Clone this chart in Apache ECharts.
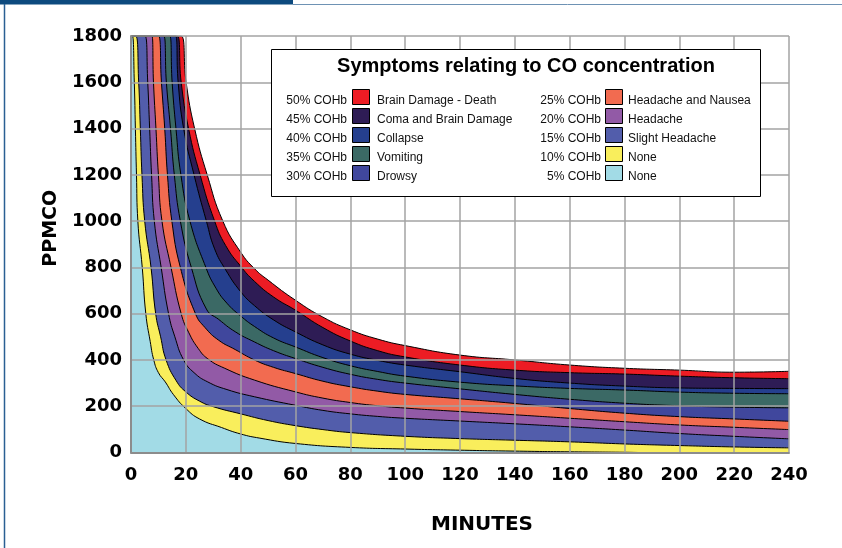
<!DOCTYPE html>
<html>
<head>
<meta charset="utf-8">
<script src="https://cdn.jsdelivr.net/npm/echarts@6/dist/echarts.min.js"></script>
<style>
html,body{margin:0;padding:0;background:#fff;}
#c{width:842px;height:548px;}
</style>
</head>
<body>
<div id="c"></div>
<script>
// ---- data ----
const levels = ['50% COHb','45% COHb','40% COHb','35% COHb','30% COHb','25% COHb','20% COHb','15% COHb','10% COHb','5% COHb'];
const symptoms = ['Brain Damage - Death','Coma and Brain Damage','Collapse','Vomiting','Drowsy','Headache and Nausea','Headache','Slight Headache','None','None'];
const colors = ['#ED1C24','#2E1C55','#253F8E','#3B6965','#40479D','#F26B50','#925AA6','#525DAB','#F9EE5C','#A2DBE6'];
const xTicks = [0,20,40,60,80,100,120,140,160,180,200,220,240];
const yTicks = [0,200,400,600,800,1000,1200,1400,1600,1800];

// upper boundary of each band: [minutes, ppm CO]
const cohb50 = [[0,1800],[18.2,1800],[20.1,1600],[23.2,1400],[27.8,1200],[33.5,1000],[40,866],[45,795],[50,745],[60,658],[70,585],[80,530],[90,490],[100,462],[120,421],[140,400],[160,378],[180,364],[200,356],[220,347],[240,351]];
const cohb45 = [[0,1800],[16.8,1800],[18.3,1600],[21,1400],[25.2,1200],[30.5,1000],[34.5,895],[40,805],[45,740],[52,672],[60,615],[70,540],[80,482],[90,440],[100,413],[120,378],[140,356],[160,345],[180,339],[200,330],[220,323],[240,319]];
const cohb40 = [[0,1800],[16.2,1800],[17.2,1600],[19.2,1400],[23,1200],[27.5,1000],[30.5,880],[34.5,790],[40,695],[45,635],[52,573],[60,521],[70,465],[80,425],[90,398],[100,378],[120,349],[140,320],[160,300],[180,287],[200,279],[220,277],[240,276]];
const cohb35 = [[0,1800],[14.1,1800],[15,1600],[16.4,1400],[18.2,1200],[21.5,1000],[27.3,800],[31,710],[35,645],[40,590],[45,545],[52,495],[60,456],[70,410],[80,375],[90,350],[100,330],[120,304],[140,288],[160,277],[180,270],[200,261],[220,256],[240,254]];
const cohb30 = [[0,1800],[11.9,1800],[12.9,1600],[14.4,1400],[15.8,1200],[18,1000],[22,800],[27.5,620],[32,575],[38,522],[45,478],[52,440],[60,406],[70,368],[80,338],[90,316],[100,300],[120,275],[140,251],[160,230],[180,213],[200,202],[220,196],[240,193]];
const cohb25 = [[0,1800],[10,1800],[11.1,1600],[12.3,1400],[13.3,1200],[14.9,1000],[18,800],[23.5,600],[27,540],[32,485],[38,445],[45,400],[52,368],[60,341],[70,308],[80,284],[90,265],[100,251],[120,232],[140,212],[160,190],[180,170],[200,155],[220,145],[240,135]];
const cohb20 = [[0,1800],[7.6,1800],[8.2,1600],[9.1,1400],[10,1200],[11.3,1000],[14.6,800],[18.3,600],[21,520],[24.5,450],[28,405],[34,365],[45,313],[60,262],[70,235],[80,216],[90,202],[100,192],[120,177],[140,163],[160,148],[180,133],[200,119],[220,109],[240,99]];
const cohb15 = [[0,1800],[5.1,1800],[6.1,1600],[6.8,1400],[7.5,1200],[8.5,1000],[11,800],[13.7,600],[16,500],[19.2,400],[23,345],[28,305],[35,272],[45,241],[60,204],[70,182],[80,167],[90,156],[100,148],[120,136],[140,124],[160,111],[180,97],[200,82],[220,70],[240,59]];
const cohb10 = [[0,1800],[1.7,1800],[2.8,1600],[3.4,1400],[4,1200],[5,1000],[7.3,800],[9,600],[10.8,500],[12.8,400],[16.5,310],[20,262],[25,222],[30,198],[40,167],[50,138],[60,116],[70,99],[80,86],[100,70],[120,60],[140,53],[160,46],[180,37],[200,30],[220,24],[240,20]];
const cohb5  = [[0,1800],[0.5,1800],[1.2,1600],[1.6,1400],[2,1200],[2.5,1000],[4.1,800],[5.4,600],[7,480],[8.3,400],[10,345],[12.5,305],[15.5,250],[20,190],[25,145],[33,108],[40,80],[47,62],[60,39],[80,22],[100,15],[120,10],[140,6],[160,3],[180,1],[185,0]];

const curves = [cohb50,cohb45,cohb40,cohb35,cohb30,cohb25,cohb20,cohb15,cohb10,cohb5];
const titleText = 'Symptoms relating to CO concentration';

// ---- chart ----
const chart = echarts.init(document.getElementById('c'), null, {renderer:'canvas'});
const tickFont = {fontFamily:'DejaVu Sans', fontWeight:'bold', fontSize:18, color:'#000'};

const series = curves.map((d,i)=>({
  name: levels[i],
  type: 'line',
  data: d,
  showSymbol: false,
  smooth: 0.5,
  clip: true,
  silent: true,
  lineStyle: {color:'#000', width:1},
  itemStyle: {color: colors[i]},
  areaStyle: {color: colors[i], opacity:1},
  z: 2
}));

// legend drawn as graphics
const legendEls = [];
const boxL = 271.5, boxT = 49.5, boxW = 489, boxH = 147;
legendEls.push({type:'rect', z:20, shape:{x:boxL,y:boxT,width:boxW,height:boxH}, style:{fill:'#fff',stroke:'#000',lineWidth:1}});
legendEls.push({type:'text', z:21, x:526, y:66, style:{text:titleText, font:'bold 20px "Liberation Sans", Arial, sans-serif', fill:'#000', align:'center', verticalAlign:'middle'}});
levels.forEach((lv,i)=>{
  const col = i < 5 ? 0 : 1;
  const row = i % 5;
  const cy = 101 + row*19;
  const preX = col === 0 ? 347 : 601;
  const swX = col === 0 ? 352.5 : 605.5;
  const labX = col === 0 ? 377 : 628;
  legendEls.push({type:'text', z:21, x:preX, y:cy, style:{text:lv, font:'12px "Liberation Sans", Arial, sans-serif', fill:'#111', align:'right', verticalAlign:'middle'}});
  legendEls.push({type:'rect', z:21, shape:{x:swX, y:cy-11.5, width:17, height:15}, style:{fill:colors[i], stroke:'#000', lineWidth:1}});
  legendEls.push({type:'text', z:21, x:labX, y:cy, style:{text:symptoms[i], font:'12px "Liberation Sans", Arial, sans-serif', fill:'#111', align:'left', verticalAlign:'middle'}});
});

// page frame
const frameEls = [
  {type:'rect', z:30, shape:{x:0,y:0,width:293,height:4.5}, style:{fill:'#0D4A7E'}},
  {type:'line', z:30, shape:{x1:293,y1:4.5,x2:842,y2:4.5}, style:{stroke:'#6E92B4',lineWidth:1}},
  {type:'line', z:30, shape:{x1:4.5,y1:4,x2:4.5,y2:548}, style:{stroke:'#2A5F93',lineWidth:1.5}}
];

chart.setOption({
  animation: false,
  backgroundColor: '#fff',
  grid: {left:131, right:53, top:36, bottom:95.5, containLabel:false},
  xAxis: {
    type:'value', min:0, max:240, interval:20, z:5,
    axisLine:{show:true, onZero:false, lineStyle:{color:'#8c8c8c', width:2}},
    axisTick:{show:false},
    splitLine:{show:true, lineStyle:{color:'#a3a3a3', width:1.5}},
    axisLabel:Object.assign({margin:14, formatter: v => String(v)}, tickFont),
    name:'MINUTES', nameLocation:'middle', nameGap:62,
    nameTextStyle:{fontFamily:'DejaVu Sans', fontWeight:'bold', fontSize:20, color:'#000', padding:[0,0,0,44]}
  },
  yAxis: {
    type:'value', min:0, max:1800, interval:200, z:5,
    axisLine:{show:true, lineStyle:{color:'#8c8c8c', width:2}},
    axisTick:{show:false},
    splitLine:{show:true, lineStyle:{color:'#a3a3a3', width:1.5}},
    axisLabel:Object.assign({margin:9, formatter: v => String(v)}, tickFont),
    name:'PPMCO', nameLocation:'middle', nameGap:50, nameRotate:90,
    nameTextStyle:{fontFamily:'DejaVu Sans', fontWeight:'bold', fontSize:19, color:'#000', padding:[0,0,0,32]}
  },
  series: series,
  graphic: legendEls.concat(frameEls)
});
</script>
</body>
</html>
